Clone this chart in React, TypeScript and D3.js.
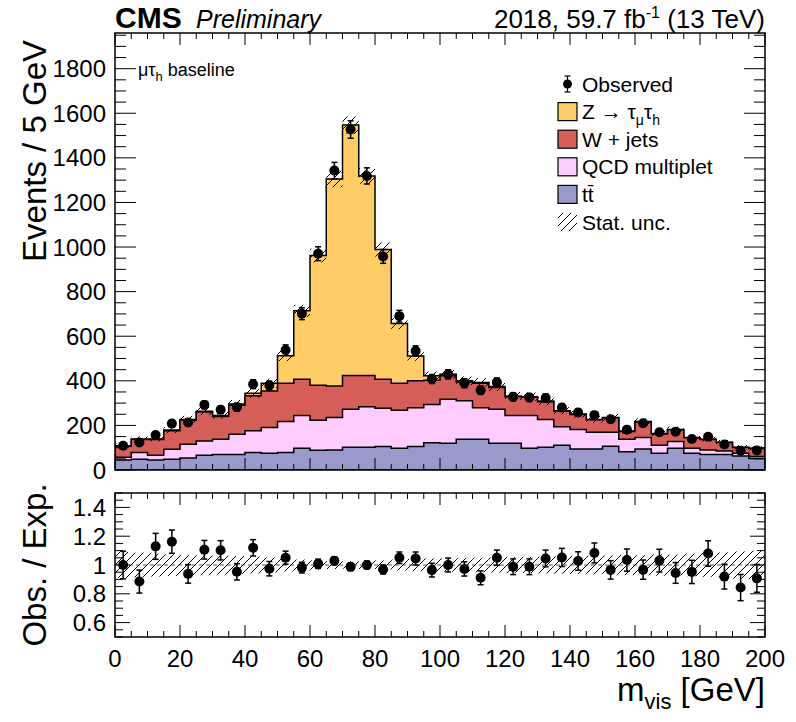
import React from 'react';
import * as d3 from 'd3';

// m_vis histogram, 5 GeV bins from 0 to 200
const BIN_LOW = [
  0, 5, 10, 15, 20, 25, 30, 35, 40, 45, 50, 55, 60, 65, 70, 75, 80, 85, 90, 95,
  100, 105, 110, 115, 120, 125, 130, 135, 140, 145, 150, 155, 160, 165, 170, 175, 180, 185, 190, 195,
];
const BIN_WIDTH = 5;

// stacked backgrounds, bottom to top
const TTBAR = [45, 48, 45, 48, 54, 66, 70, 70, 79, 75, 79, 97, 89, 90, 102, 102, 105, 97, 105, 122,
  120, 138, 138, 120, 120, 97, 102, 111, 94, 94, 106, 82, 94, 75, 97, 75, 70, 70, 63, 52];
const QCD = [12, 30, 21, 45, 61, 64, 68, 90, 97, 116, 138, 148, 134, 145, 170, 182, 172, 171, 174, 172,
  197, 173, 141, 152, 125, 148, 125, 83, 88, 75, 63, 56, 52, 36, 31, 22, 20, 15, 12, 8];
const WJETS = [50, 59, 71, 83, 109, 130, 102, 130, 157, 163, 172, 162, 157, 142, 152, 140, 130, 121, 121, 108,
  106, 84, 110, 98, 84, 81, 79, 70, 67, 56, 65, 35, 69, 51, 52, 48, 47, 38, 26, 36];
const ZTT = [2, 2, 2, 3, 3, 4, 5, 6, 11, 35, 123, 307, 582, 928, 1123, 895, 582, 268, 111, 21,
  6, 5, 4, 4, 3, 3, 3, 2, 2, 2, 2, 2, 2, 2, 2, 1, 1, 1, 1, 1];
const OBSERVED = [109, 123, 157, 208, 213, 292, 270, 282, 385, 379, 538, 701, 970, 1343, 1527, 1319, 958, 690, 534, 408,
  429, 389, 358, 393, 328, 325, 323, 280, 258, 246, 228, 181, 210, 169, 172, 139, 149, 114, 86, 88];
// relative MC statistical uncertainty per bin
const STAT_REL = [0.09, 0.085, 0.08, 0.075, 0.07, 0.068, 0.065, 0.062, 0.058, 0.052, 0.045, 0.038, 0.032, 0.028, 0.025,
  0.027, 0.032, 0.038, 0.042, 0.045, 0.046, 0.048, 0.05, 0.052, 0.054, 0.056, 0.058, 0.06, 0.062, 0.064,
  0.066, 0.07, 0.068, 0.074, 0.072, 0.078, 0.082, 0.086, 0.094, 0.1];

const X_TICKS = [0, 20, 40, 60, 80, 100, 120, 140, 160, 180, 200];
const Y_TICKS = [0, 200, 400, 600, 800, 1000, 1200, 1400, 1600, 1800];
const RATIO_TICKS = [0.6, 0.8, 1, 1.2, 1.4];

const COLORS = {
  ztt: '#FFCC66',
  wjets: '#D55E58',
  qcd: '#FFCCFF',
  ttbar: '#9999CC',
};

const FONT = '"Liberation Sans", Arial, Helvetica, sans-serif';
const L = 115, R = 765;
const MAIN_TOP = 33, MAIN_BOT = 470;
const RAT_TOP = 493, RAT_BOT = 637;

export default function App() {
  const x = d3.scaleLinear().domain([0, 200]).range([L, R]);
  const y = d3.scaleLinear().domain([0, 1960]).range([MAIN_BOT, MAIN_TOP]);
  const yr = d3.scaleLinear().domain([0.5, 1.5]).range([RAT_BOT, RAT_TOP]);

  const total = BIN_LOW.map((_, i) => TTBAR[i] + QCD[i] + WJETS[i] + ZTT[i]);

  // cumulative tops, drawn from the largest down so each layer covers the next
  const cumTT = TTBAR;
  const cumQCD = cumTT.map((v, i) => v + QCD[i]);
  const cumW = cumQCD.map((v, i) => v + WJETS[i]);
  const cumZ = cumW.map((v, i) => v + ZTT[i]);
  const layers = [
    { key: 'ztt', vals: cumZ, color: COLORS.ztt },
    { key: 'wjets', vals: cumW, color: COLORS.wjets },
    { key: 'qcd', vals: cumQCD, color: COLORS.qcd },
    { key: 'ttbar', vals: cumTT, color: COLORS.ttbar },
  ];

  const stepArea = (vals: number[]) => {
    const pts = BIN_LOW.map((lo, i) => [lo, vals[i]] as [number, number]);
    pts.push([BIN_LOW[BIN_LOW.length - 1] + BIN_WIDTH, vals[vals.length - 1]]);
    return d3.area<[number, number]>()
      .x(d => x(d[0]))
      .y0(y(0))
      .y1(d => y(d[1]))
      .curve(d3.curveStepAfter)(pts) || '';
  };

  const xMinor = d3.range(0, 201, 5);
  const yMinor = d3.range(0, 1960, 50);
  const rMinor = d3.range(0.5, 1.5001, 0.05);

  const bw = x(BIN_WIDTH) - x(0);

  const ratio = OBSERVED.map((o, i) => o / total[i]);
  const ratioErr = OBSERVED.map((o, i) => Math.sqrt(o) / total[i]);

  const legendRows = [84, 111.6, 139.2, 166.8, 194.4, 222];
  const legendItems = [
    { key: 'ztt', color: COLORS.ztt },
    { key: 'wjets', color: COLORS.wjets },
    { key: 'qcd', color: COLORS.qcd },
    { key: 'ttbar', color: COLORS.ttbar },
  ];

  const isMajor = (v: number, step: number) => Math.abs(v / step - Math.round(v / step)) < 1e-6;

  return (
    <svg width={796} height={722} style={{ position: 'absolute', left: 0, top: 0, background: '#fff' }}
      fontFamily={FONT}>
      <defs>
        <pattern id="hatch" patternUnits="userSpaceOnUse" width={8} height={8}>
          <line x1={0} y1={8} x2={8} y2={0} stroke="#000" strokeWidth={1} />
          <line x1={-2} y1={2} x2={2} y2={-2} stroke="#000" strokeWidth={1} />
          <line x1={6} y1={10} x2={10} y2={6} stroke="#000" strokeWidth={1} />
        </pattern>
        <clipPath id="mainClip">
          <rect x={L} y={MAIN_TOP} width={R - L} height={MAIN_BOT - MAIN_TOP} />
        </clipPath>
        <clipPath id="ratClip">
          <rect x={L} y={RAT_TOP} width={R - L} height={RAT_BOT - RAT_TOP} />
        </clipPath>
      </defs>

      <rect width={796} height={722} fill="#fff" />

      {/* header */}
      <text x={115} y={28} fontSize={30} fontWeight="bold">CMS</text>
      <text x={196} y={28} fontSize={25} fontStyle="italic">Preliminary</text>
      <text x={R} y={28} fontSize={26} textAnchor="end">
        2018, 59.7 fb<tspan dy={-10} fontSize={16}>-1</tspan><tspan dy={10}> (13 TeV)</tspan>
      </text>

      {/* main panel: stacked backgrounds */}
      <g clipPath="url(#mainClip)">
        {layers.map(l => (
          <path key={l.key} d={stepArea(l.vals)} fill={l.color} stroke="#000" strokeWidth={1.5} />
        ))}
        {total.map((t, i) => (
          <rect key={i} x={x(BIN_LOW[i])} width={bw}
            y={y(t * (1 + STAT_REL[i]))} height={y(t * (1 - STAT_REL[i])) - y(t * (1 + STAT_REL[i]))}
            fill="url(#hatch)" />
        ))}
        {OBSERVED.map((o, i) => {
          const cx = x(BIN_LOW[i] + BIN_WIDTH / 2);
          const e = Math.sqrt(o);
          return (
            <g key={i}>
              <line x1={cx} x2={cx} y1={y(o - e)} y2={y(o + e)} stroke="#000" strokeWidth={1.5} />
              <line x1={cx - 3} x2={cx + 3} y1={y(o - e)} y2={y(o - e)} stroke="#000" strokeWidth={1.5} />
              <line x1={cx - 3} x2={cx + 3} y1={y(o + e)} y2={y(o + e)} stroke="#000" strokeWidth={1.5} />
              <circle cx={cx} cy={y(o)} r={5} fill="#000" />
            </g>
          );
        })}
      </g>

      {/* main panel frame and ticks */}
      <rect x={L} y={MAIN_TOP} width={R - L} height={MAIN_BOT - MAIN_TOP} fill="none" stroke="#000" strokeWidth={1.5} />
      {yMinor.map(v => {
        const len = isMajor(v, 200) ? 21 : 11;
        return (
          <g key={'ym' + v}>
            <line x1={L} x2={L + len} y1={y(v)} y2={y(v)} stroke="#000" strokeWidth={1} />
            <line x1={R} x2={R - len} y1={y(v)} y2={y(v)} stroke="#000" strokeWidth={1} />
          </g>
        );
      })}
      {xMinor.map(v => {
        const len = isMajor(v, 20) ? 12 : 6;
        return (
          <g key={'xm' + v}>
            <line x1={x(v)} x2={x(v)} y1={MAIN_BOT} y2={MAIN_BOT - len} stroke="#000" strokeWidth={1} />
            <line x1={x(v)} x2={x(v)} y1={MAIN_TOP} y2={MAIN_TOP + len} stroke="#000" strokeWidth={1} />
            <line x1={x(v)} x2={x(v)} y1={RAT_BOT} y2={RAT_BOT - len} stroke="#000" strokeWidth={1} />
            <line x1={x(v)} x2={x(v)} y1={RAT_TOP} y2={RAT_TOP + len} stroke="#000" strokeWidth={1} />
          </g>
        );
      })}
      {Y_TICKS.map(v => (
        <text key={'yl' + v} x={106} y={y(v) + 8.5} fontSize={24} textAnchor="end">{v}</text>
      ))}
      <text transform={`translate(46,${MAIN_TOP + 7}) rotate(-90)`} fontSize={33} textAnchor="end">Events / 5 GeV</text>

      <text x={138} y={76} fontSize={18} fill="#000">
        μτ<tspan dy={5} fontSize={13}>h</tspan><tspan dy={-5}> baseline</tspan>
      </text>

      {/* legend */}
      <g>
        <line x1={567.5} x2={567.5} y1={legendRows[0] - 8} y2={legendRows[0] + 8} stroke="#000" strokeWidth={1.2} />
        <line x1={564.5} x2={570.5} y1={legendRows[0] - 8} y2={legendRows[0] - 8} stroke="#000" strokeWidth={1.2} />
        <line x1={564.5} x2={570.5} y1={legendRows[0] + 8} y2={legendRows[0] + 8} stroke="#000" strokeWidth={1.2} />
        <circle cx={567.5} cy={legendRows[0]} r={4.5} fill="#000" />
        <text x={582} y={legendRows[0] + 7.5} fontSize={21}>Observed</text>
        {legendItems.map((it, k) => (
          <rect key={it.key} x={558} y={legendRows[k + 1] - 9} width={19} height={18} fill={it.color} stroke="#000" strokeWidth={1.2} />
        ))}
        <text x={582} y={legendRows[1] + 7.5} fontSize={21}>
          Z → τ<tspan dy={6} fontSize={14}>μ</tspan><tspan dy={-6}>τ</tspan><tspan dy={6} fontSize={14}>h</tspan>
        </text>
        <text x={582} y={legendRows[2] + 7.5} fontSize={21}>W + jets</text>
        <text x={582} y={legendRows[3] + 7.5} fontSize={21}>QCD multiplet</text>
        <text x={582} y={legendRows[4] + 7.5} fontSize={21}>tt̄</text>
        <rect x={558} y={legendRows[5] - 9} width={19} height={18} fill="url(#hatch)" />
        <text x={582} y={legendRows[5] + 7.5} fontSize={21}>Stat. unc.</text>
      </g>

      {/* ratio panel */}
      <g clipPath="url(#ratClip)">
        {STAT_REL.map((u, i) => (
          <rect key={i} x={x(BIN_LOW[i])} width={bw} y={yr(1 + u)} height={yr(1 - u) - yr(1 + u)} fill="url(#hatch)" />
        ))}
        <line x1={L} x2={R} y1={yr(1)} y2={yr(1)} stroke="#555" strokeWidth={1} strokeDasharray="4,3" />
        {ratio.map((r, i) => {
          const cx = x(BIN_LOW[i] + BIN_WIDTH / 2);
          const e = ratioErr[i];
          return (
            <g key={i}>
              <line x1={cx} x2={cx} y1={yr(r - e)} y2={yr(r + e)} stroke="#000" strokeWidth={1.5} />
              <line x1={cx - 3} x2={cx + 3} y1={yr(r - e)} y2={yr(r - e)} stroke="#000" strokeWidth={1.5} />
              <line x1={cx - 3} x2={cx + 3} y1={yr(r + e)} y2={yr(r + e)} stroke="#000" strokeWidth={1.5} />
              <circle cx={cx} cy={yr(r)} r={5} fill="#000" />
            </g>
          );
        })}
      </g>
      <rect x={L} y={RAT_TOP} width={R - L} height={RAT_BOT - RAT_TOP} fill="none" stroke="#000" strokeWidth={1.5} />
      {rMinor.map(v => {
        const len = isMajor(v, 0.2) ? 15 : 8;
        return (
          <g key={'rm' + v.toFixed(2)}>
            <line x1={L} x2={L + len} y1={yr(v)} y2={yr(v)} stroke="#000" strokeWidth={1} />
            <line x1={R} x2={R - len} y1={yr(v)} y2={yr(v)} stroke="#000" strokeWidth={1} />
          </g>
        );
      })}
      {RATIO_TICKS.map(v => (
        <text key={'rl' + v} x={106} y={yr(v) + 8.5} fontSize={24} textAnchor="end">{v}</text>
      ))}
      <text transform={`translate(46,${(RAT_TOP + RAT_BOT) / 2}) rotate(-90)`} fontSize={33} textAnchor="middle">Obs. / Exp.</text>

      {X_TICKS.map(v => (
        <text key={'xl' + v} x={x(v)} y={667} fontSize={24} textAnchor="middle">{v}</text>
      ))}
      <text x={R} y={701} fontSize={33} textAnchor="end">
        m<tspan dy={8} fontSize={22}>vis</tspan><tspan dy={-8}> [GeV]</tspan>
      </text>
    </svg>
  );
}
